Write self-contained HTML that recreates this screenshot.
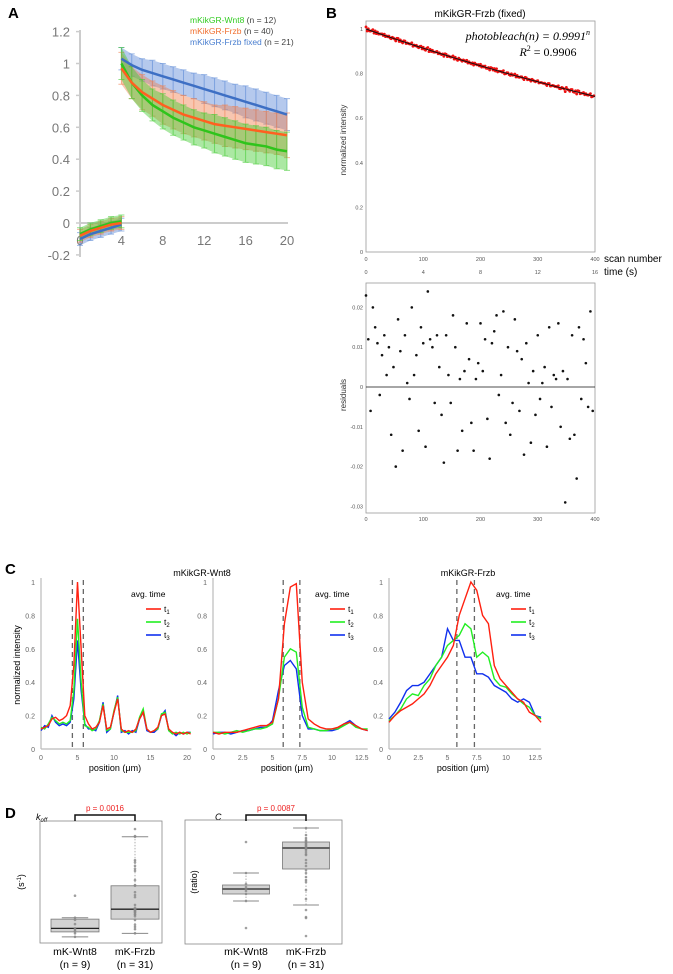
<!DOCTYPE html>
<html><head><meta charset="utf-8"><style>
html,body{margin:0;padding:0;background:#fff;}
svg{display:block;font-family:"Liberation Sans",sans-serif;}
</style></head><body>
<svg id="fig" width="673" height="974" viewBox="0 0 673 974" xmlns="http://www.w3.org/2000/svg">
<text x="8" y="18" font-size="15" font-weight="bold">A</text>
<text x="326" y="18" font-size="15" font-weight="bold">B</text>
<text x="5" y="574" font-size="15" font-weight="bold">C</text>
<text x="5" y="818" font-size="15" font-weight="bold">D</text>
<g font-size="8.5">
<text x="190" y="23"><tspan fill="#33cc22">mKikGR-Wnt8</tspan><tspan fill="#444"> (n = 12)</tspan></text>
<text x="190" y="34"><tspan fill="#f07030">mKikGR-Frzb</tspan><tspan fill="#444"> (n = 40)</tspan></text>
<text x="190" y="45"><tspan fill="#4a7fd0">mKikGR-Frzb fixed</tspan><tspan fill="#444"> (n = 21)</tspan></text>
</g>
<text x="480" y="17" font-size="10" text-anchor="middle">mKikGR-Frzb (fixed)</text>
<text x="590" y="40" font-size="12" text-anchor="end" font-family="Liberation Serif,serif" font-style="italic">photobleach(n) = 0.9991<tspan font-size="8" dy="-5">n</tspan></text>
<text x="548" y="56" font-size="12" text-anchor="middle" font-family="Liberation Serif,serif"><tspan font-style="italic">R</tspan><tspan font-size="8" dy="-5">2</tspan><tspan dy="5"> = 0.9906</tspan></text>
<text x="604" y="262" font-size="10">scan number</text>
<text x="604" y="275" font-size="10">time (s)</text>
<text transform="translate(346,140) rotate(-90)" font-size="8" text-anchor="middle" fill="#333">normalized intensity</text>
<text transform="translate(346,395) rotate(-90)" font-size="8" text-anchor="middle" fill="#333">residuals</text>
<text transform="translate(20,665) rotate(-90)" font-size="9" text-anchor="middle">normalized intensity</text>
<text x="202" y="576" font-size="9" text-anchor="middle">mKikGR-Wnt8</text>
<text x="468" y="576" font-size="9" text-anchor="middle">mKikGR-Frzb</text>
<text x="115" y="771" font-size="9" text-anchor="middle">position (μm)</text>
<text x="287" y="771" font-size="9" text-anchor="middle">position (μm)</text>
<text x="463" y="771" font-size="9" text-anchor="middle">position (μm)</text>
<text x="36" y="820" font-size="9" font-style="italic">k<tspan font-size="6" dy="2">off</tspan></text>
<text x="215" y="820" font-size="9" font-style="italic">C</text>
<text transform="translate(24,882) rotate(-90)" font-size="9" text-anchor="middle">(s<tspan font-size="6" dy="-3">-1</tspan><tspan dy="3">)</tspan></text>
<text transform="translate(197,882) rotate(-90)" font-size="9" text-anchor="middle">(ratio)</text>
</svg>
<script>
// ---------- Panel A data ----------
const aPreT = [0,1,2,3,4];
const aPostT = [4,5,6,7,8,9,10,11,12,13,14,15,16,17,18,19,20];
const wntPre = [-0.07,-0.04,-0.02,0.0,0.01];
const frzPre = [-0.08,-0.05,-0.03,-0.01,0.0];
const fixPre = [-0.1,-0.07,-0.05,-0.03,-0.01];
const wntPost = [1.0,0.88,0.8,0.74,0.7,0.66,0.63,0.6,0.58,0.56,0.54,0.52,0.5,0.49,0.48,0.46,0.45];
const frzPost = [0.97,0.88,0.82,0.78,0.74,0.71,0.68,0.66,0.64,0.62,0.61,0.6,0.59,0.58,0.57,0.56,0.55];
const fixPost = [1.03,0.99,0.96,0.94,0.92,0.9,0.88,0.86,0.84,0.82,0.8,0.78,0.76,0.74,0.72,0.7,0.68];
const wntSd = [0.1,0.1,0.1,0.1,0.11,0.11,0.11,0.11,0.11,0.12,0.12,0.12,0.12,0.12,0.12,0.12,0.12];
const frzSd = [0.1,0.1,0.11,0.11,0.12,0.12,0.12,0.12,0.12,0.12,0.13,0.13,0.13,0.13,0.13,0.13,0.14];
const fixSd = [0.07,0.07,0.07,0.08,0.08,0.08,0.08,0.08,0.09,0.09,0.09,0.09,0.1,0.1,0.1,0.1,0.1];
const preSd = [0.04,0.04,0.04,0.04,0.04];
const aYTicks = [1.2,1,0.8,0.6,0.4,0.2,0,-0.2];
const aYTickLabels = ["1.2","1","0.8","0.6","0.4","0.2","0","-0.2"];
const aXTicks = [0,4,8,12,16,20];

// ---------- Panel B data ----------
const bRate = 0.9991;
const bResiduals = [0.023,0.012,-0.006,0.02,0.015,0.011,-0.002,0.008,0.013,0.003,0.01,-0.012,0.005,-0.02,0.017,0.009,-0.016,0.013,0.001,-0.003,0.02,0.003,0.008,-0.011,0.015,0.011,-0.015,0.024,0.012,0.01,-0.004,0.013,0.005,-0.007,-0.019,0.013,0.003,-0.004,0.018,0.01,-0.016,0.002,-0.011,0.004,0.016,0.007,-0.009,-0.016,0.002,0.006,0.016,0.004,0.012,-0.008,-0.018,0.011,0.014,0.018,-0.002,0.003,0.019,-0.009,0.01,-0.012,-0.004,0.017,0.009,-0.006,0.007,-0.017,0.011,0.001,-0.014,0.004,-0.007,0.013,-0.003,0.001,0.005,-0.015,0.015,-0.005,0.003,0.002,0.016,-0.01,0.004,-0.029,0.002,-0.013,0.013,-0.012,-0.023,0.015,-0.003,0.012,0.006,-0.005,0.019,-0.006];
const bScanStep = 4;
const bYTicks = [0,0.2,0.4,0.6,0.8,1];
const bXTicks = [0,100,200,300,400];
const bTimeLabels = ["0","4","8","12","16"];
const rYTicks = [0.02,0.01,0,-0.01,-0.02,-0.03];

// ---------- Panel C data ----------
const c1X = [0,0.5,1,1.5,2,2.5,3,3.5,4,4.5,5,5.5,6,6.5,7,7.5,8,8.5,9,9.5,10,10.5,11,11.5,12,12.5,13,13.5,14,14.5,15,15.5,16,16.5,17,17.5,18,18.5,19,19.5,20,20.5];
const c1T1 = [0.12,0.13,0.14,0.18,0.19,0.17,0.18,0.2,0.26,0.5,1.0,0.6,0.2,0.15,0.12,0.13,0.16,0.26,0.12,0.13,0.22,0.3,0.12,0.1,0.11,0.1,0.12,0.18,0.22,0.12,0.1,0.11,0.13,0.2,0.21,0.12,0.1,0.09,0.1,0.09,0.1,0.09];
const c1T2 = [0.13,0.12,0.15,0.19,0.17,0.15,0.16,0.15,0.17,0.35,0.78,0.4,0.14,0.13,0.11,0.12,0.17,0.27,0.11,0.12,0.23,0.31,0.11,0.1,0.1,0.1,0.11,0.19,0.24,0.12,0.1,0.11,0.12,0.21,0.22,0.11,0.09,0.1,0.09,0.1,0.09,0.1];
const c1T3 = [0.11,0.14,0.13,0.2,0.16,0.14,0.15,0.14,0.16,0.3,0.65,0.35,0.15,0.12,0.12,0.11,0.16,0.28,0.1,0.12,0.22,0.32,0.1,0.11,0.09,0.11,0.1,0.18,0.22,0.11,0.1,0.1,0.12,0.2,0.23,0.11,0.1,0.08,0.1,0.09,0.1,0.1];
const c2X = [0,0.5,1,1.5,2,2.5,3,3.5,4,4.5,5,5.5,6,6.5,7,7.5,8,8.5,9,9.5,10,10.5,11,11.5,12,12.5,13];
const c2T1 = [0.1,0.09,0.1,0.1,0.1,0.11,0.12,0.13,0.14,0.14,0.16,0.3,0.75,0.97,0.99,0.4,0.18,0.15,0.13,0.12,0.12,0.13,0.15,0.16,0.14,0.12,0.11];
const c2T2 = [0.1,0.1,0.09,0.1,0.11,0.1,0.11,0.12,0.12,0.13,0.15,0.3,0.55,0.6,0.58,0.25,0.13,0.12,0.11,0.11,0.12,0.12,0.14,0.16,0.13,0.12,0.12];
const c2T3 = [0.09,0.1,0.1,0.09,0.1,0.11,0.11,0.12,0.13,0.13,0.17,0.35,0.5,0.53,0.48,0.2,0.12,0.12,0.11,0.11,0.11,0.12,0.15,0.17,0.14,0.12,0.11];
const c3X = c2X;
const c3T1 = [0.16,0.2,0.23,0.25,0.27,0.3,0.33,0.38,0.45,0.5,0.55,0.62,0.8,0.9,1.0,0.95,0.8,0.75,0.5,0.42,0.38,0.34,0.3,0.28,0.22,0.2,0.16];
const c3T2 = [0.17,0.2,0.24,0.3,0.33,0.32,0.38,0.42,0.5,0.55,0.62,0.65,0.68,0.75,0.72,0.55,0.58,0.55,0.42,0.38,0.37,0.33,0.3,0.27,0.25,0.2,0.18];
const c3T3 = [0.18,0.22,0.28,0.35,0.38,0.38,0.4,0.45,0.5,0.55,0.72,0.65,0.65,0.55,0.55,0.45,0.45,0.43,0.38,0.36,0.34,0.3,0.28,0.3,0.28,0.2,0.19];
const c1Dash = [4.3,5.8];
const c2Dash = [5.9,7.3];
const c3Dash = [5.8,7.3];
const c1XTicks = [0,5,10,15,20];
const c23XTicks = [0,2.5,5,7.5,10,12.5];
const cYTicks = [0,0.2,0.4,0.6,0.8,1];

// ---------- Panel D data ----------
const dGroups = ["mK-Wnt8","mK-Frzb"];
const dCounts = ["(n =  9)","(n = 31)"];
const koffWnt = [0.61,0.30,0.27,0.21,0.15,0.13,0.11,0.08,0.03];
const koffFrz = [1.55,1.45,1.44,1.11,1.08,1.03,0.99,0.96,0.83,0.76,0.75,0.66,0.62,0.59,0.48,0.44,0.42,0.41,0.39,0.38,0.37,0.35,0.34,0.32,0.27,0.2,0.17,0.14,0.08,0.42,0.4];
const koffWntStats = [0.03,0.10,0.15,0.28,0.30];
const koffFrzStats = [0.08,0.28,0.42,0.75,1.44];
const ratioWnt = [0.98,0.67,0.56,0.53,0.51,0.49,0.46,0.39,0.12];
const ratioFrz = [1.12,1.05,1.02,1.0,0.98,0.97,0.95,0.93,0.92,0.9,0.88,0.85,0.8,0.77,0.74,0.67,0.63,0.58,0.5,0.41,0.3,0.22,0.23,0.04,0.96,0.99,0.94,0.91,0.86,0.7,0.6];
const ratioWntStats = [0.39,0.46,0.51,0.55,0.67];
const ratioFrzStats = [0.35,0.71,0.92,0.98,1.12];
const dPValues = ["p = 0.0016","p = 0.0087"];

const NS = "http://www.w3.org/2000/svg";
const svg = document.getElementById('fig');
function mk(tag, attrs, parent){ const e=document.createElementNS(NS,tag); for(const k in attrs) e.setAttribute(k,attrs[k]); (parent||svg).appendChild(e); return e; }
function grp(){ const g=mk('g',{}); return g; }

// ===== Panel A =====
const ax = t => 80 + t*10.35;
const ay = v => 223 - v*159.5;
const gA = grp();


let e;
e = mk('line',{x1:80,y1:30,x2:80,y2:257,stroke:'#ccc','stroke-width':2},gA);


e = mk('line',{x1:80,y1:223,x2:288,y2:223,stroke:'#ccc','stroke-width':2},gA);


aYTicks.forEach((v,i)=>{
  const t = mk('text',{x:70,y:ay(v)+5,'font-size':13,'text-anchor':'end',fill:'#777'},gA);
  t.textContent = aYTickLabels[i];
  
  
  const l = mk('line',{x1:76,x2:80,y1:ay(v),y2:ay(v),stroke:'#ccc','stroke-width':1.5},gA);
  
  
});
aXTicks.forEach(v=>{
  const t = mk('text',{x:ax(v),y:245,'font-size':13,'text-anchor':'middle',fill:'#777'},gA);
  t.textContent = String(v);
  
  
});
function band(ts, m, sd, color, name){
  const up = ts.map((t,i)=>ax(t)+','+ay(m[i]+sd[i]));
  const dn = ts.map((t,i)=>ax(t)+','+ay(m[i]-sd[i])).reverse();
  const p = mk('polygon',{points:up.concat(dn).join(' '),fill:color,'fill-opacity':0.45},gA);
  
  
  ts.forEach((t,i)=>{
    const b = mk('path',{d:`M${ax(t)},${ay(m[i]+sd[i])}V${ay(m[i]-sd[i])}M${ax(t)-3},${ay(m[i]+sd[i])}h6M${ax(t)-3},${ay(m[i]-sd[i])}h6`,stroke:color,'stroke-opacity':0.6,'stroke-width':1,fill:'none'},gA);
    
    
  });
}
function meanLine(ts, m, color, name){
  const p = mk('polyline',{points:ts.map((t,i)=>ax(t)+','+ay(m[i])).join(' '),fill:'none',stroke:color,'stroke-width':2.5},gA);
  
  
}
band(aPostT, fixPost, fixSd, '#5a88d6', 'fixed');
band(aPostT, frzPost, frzSd, '#f08050', 'frzb');
band(aPostT, wntPost, wntSd, '#44cc33', 'wnt8');
band(aPreT, fixPre, preSd, '#5a88d6', 'fixed-pre');
band(aPreT, frzPre, preSd, '#f08050', 'frzb-pre');
band(aPreT, wntPre, preSd, '#44cc33', 'wnt8-pre');
meanLine(aPostT, fixPost, '#3d6fc4', 'fixed');
meanLine(aPostT, wntPost, '#2fc41c', 'wnt8');
meanLine(aPostT, frzPost, '#ff6020', 'frzb');
meanLine(aPreT, fixPre, '#3d6fc4', 'fixed-pre');
meanLine(aPreT, wntPre, '#2fc41c', 'wnt8-pre');
meanLine(aPreT, frzPre, '#ff6020', 'frzb-pre');

// ===== Panel B =====
const bx = n => 366 + n*229/400;
const by = v => 252 - v*223;
const ry = r => 387 - r*3980;
const gB = grp();


e = mk('rect',{x:366,y:21,width:229,height:231,fill:'none',stroke:'#999','stroke-width':0.8},gB);


e = mk('rect',{x:366,y:283,width:229,height:230,fill:'none',stroke:'#999','stroke-width':0.8},gB);


bYTicks.forEach(v=>{
  const t = mk('text',{x:363,y:by(v)+2,'font-size':5.5,'text-anchor':'end',fill:'#555'},gB);
  t.textContent = String(v);
  
  
});
bXTicks.forEach((v,i)=>{
  const t = mk('text',{x:bx(v),y:261,'font-size':5.5,'text-anchor':'middle',fill:'#555'},gB);
  t.textContent = String(v);
  
  
  const t2 = mk('text',{x:bx(v),y:274,'font-size':5.5,'text-anchor':'middle',fill:'#555'},gB);
  t2.textContent = bTimeLabels[i];
  
  
  const t3 = mk('text',{x:bx(v),y:521,'font-size':5.5,'text-anchor':'middle',fill:'#555'},gB);
  t3.textContent = String(v);
  
  
});
rYTicks.forEach(v=>{
  const t = mk('text',{x:363,y:ry(v)+2,'font-size':5.5,'text-anchor':'end',fill:'#555'},gB);
  t.textContent = String(v);
  
  
});
bResiduals.forEach((r,i)=>{
  const n = i*bScanStep;
  const fit = Math.pow(bRate,n);
  const d = mk('circle',{cx:bx(n),cy:by(fit+r*0.4),r:1.4,fill:'#ee1111'},gB);
  
  
  const d2 = mk('circle',{cx:bx(n+2),cy:by(fit*Math.pow(bRate,2)-r*0.3),r:1.4,fill:'#ee1111'},gB);
  
  
  const d3 = mk('circle',{cx:bx(n),cy:ry(r),r:1.3,fill:'#111'},gB);
  
  
});
const fitPts = [];
for(let n=0;n<=400;n+=10) fitPts.push(bx(n)+','+by(Math.pow(bRate,n)));
e = mk('polyline',{points:fitPts.join(' '),fill:'none',stroke:'#111','stroke-width':1},gB);


e = mk('line',{x1:366,x2:595,y1:ry(0),y2:ry(0),stroke:'#111','stroke-width':0.8},gB);



// ===== Panel C =====
const cy = v => 749 - v*167;
const cPlots = [
  {x0:41, k:7.3, xmax:20.6, X:c1X, T:[c1T1,c1T2,c1T3], dash:c1Dash, ticks:c1XTicks, lx:131},
  {x0:213, k:11.9, xmax:13, X:c2X, T:[c2T1,c2T2,c2T3], dash:c2Dash, ticks:c23XTicks, lx:315},
  {x0:389, k:11.7, xmax:13, X:c3X, T:[c3T1,c3T2,c3T3], dash:c3Dash, ticks:c23XTicks, lx:496}
];
const cColors = ['#ff2010','#22ee22','#1030ee'];
const cNames = ['t1','t2','t3'];
cPlots.forEach((p,pi)=>{
  const g = grp();
  
  
  const px = x => p.x0 + x*p.k;
  let a = mk('line',{x1:p.x0,y1:578,x2:p.x0,y2:749,stroke:'#bbb','stroke-width':1.2},g);
  
  
  a = mk('line',{x1:p.x0,y1:749,x2:px(p.xmax),y2:749,stroke:'#bbb','stroke-width':1.2},g);
  
  
  cYTicks.forEach(v=>{
    const t = mk('text',{x:p.x0-6,y:cy(v)+3,'font-size':7,'text-anchor':'end',fill:'#666'},g);
    t.textContent = String(v);
    
    
  });
  p.ticks.forEach(v=>{
    const t = mk('text',{x:px(v),y:760,'font-size':7,'text-anchor':'middle',fill:'#666'},g);
    t.textContent = String(v);
    
    
  });
  p.dash.forEach(v=>{
    const d = mk('line',{x1:px(v),x2:px(v),y1:580,y2:749,stroke:'#666','stroke-width':1.3,'stroke-dasharray':'5,4'},g);
    
    
  });
  [2,1,0].forEach(si=>{
    const l = mk('polyline',{points:p.X.map((x,i)=>px(x)+','+cy(p.T[si][i])).join(' '),fill:'none',stroke:cColors[si],'stroke-width':1.4},g);
    
    
  });
  const lt = mk('text',{x:p.lx,y:597,'font-size':8.5},g);
  lt.textContent = 'avg. time';
  
  
  cNames.forEach((n,si)=>{
    const yy = 612 + si*13;
    const ll = mk('line',{x1:p.lx+15,x2:p.lx+30,y1:yy-3,y2:yy-3,stroke:cColors[si],'stroke-width':1.6},g);
    
    
    const tt = mk('text',{x:p.lx+33,y:yy,'font-size':8.5},g);
    tt.innerHTML = 't<tspan font-size="6" dy="2">'+(si+1)+'</tspan>';
    
    
  });
});

// ===== Panel D =====
function boxPlot(x0, x1, centers, hw, yTop, yBot, vmax, sets, stats, pText, name){
  const g = grp();
  
  
  const yv = v => yBot - v*(yBot-yTop)/vmax;
  let f = mk('rect',{x:x0,y:yTop-8,width:x1-x0,height:yBot-yTop+12,fill:'none',stroke:'#888','stroke-width':0.8},g);
  
  
  centers.forEach((cx,gi)=>{
    const s = stats[gi];
    let l = mk('line',{x1:cx,x2:cx,y1:yv(s[0]),y2:yv(s[4]),stroke:'#999','stroke-width':0.8,'stroke-dasharray':'1.5,1.5'},g);
    
    
    [s[0],s[4]].forEach(v=>{
      const c = mk('line',{x1:cx-hw*0.55,x2:cx+hw*0.55,y1:yv(v),y2:yv(v),stroke:'#888','stroke-width':1},g);
      
      
    });
    const r = mk('rect',{x:cx-hw,y:yv(s[3]),width:hw*2,height:yv(s[1])-yv(s[3]),fill:'#d3d3d3',stroke:'#777','stroke-width':0.8},g);
    
    
    const m = mk('line',{x1:cx-hw,x2:cx+hw,y1:yv(s[2]),y2:yv(s[2]),stroke:'#222','stroke-width':1.3},g);
    
    
    sets[gi].forEach(v=>{
      const d = mk('circle',{cx:cx,cy:yv(v),r:1.3,fill:'#888','fill-opacity':0.8},g);
      
      
    });
    const t1 = mk('text',{x:cx,y:955,'font-size':10.5,'text-anchor':'middle'},g);
    t1.textContent = dGroups[gi];
    
    
    const t2 = mk('text',{x:cx,y:968,'font-size':10.5,'text-anchor':'middle'},g);
    t2.textContent = dCounts[gi];
    
    
  });
  const br = mk('path',{d:`M${centers[0]},821V815H${centers[1]}V821`,fill:'none',stroke:'#111','stroke-width':1.5},g);
  
  
  const pt = mk('text',{x:(centers[0]+centers[1])/2,y:811,'font-size':8,'text-anchor':'middle',fill:'#ee2222'},g);
  pt.textContent = pText;
  
  
}
boxPlot(40, 162, [75,135], 24, 829, 939, 1.55, [koffWnt, koffFrz], [koffWntStats, koffFrzStats], dPValues[0], 'koff-boxplot');
boxPlot(185, 342, [246,306], 23.5, 828, 940, 1.12, [ratioWnt, ratioFrz], [ratioWntStats, ratioFrzStats], dPValues[1], 'ratio-boxplot');
</script>
</body></html>
